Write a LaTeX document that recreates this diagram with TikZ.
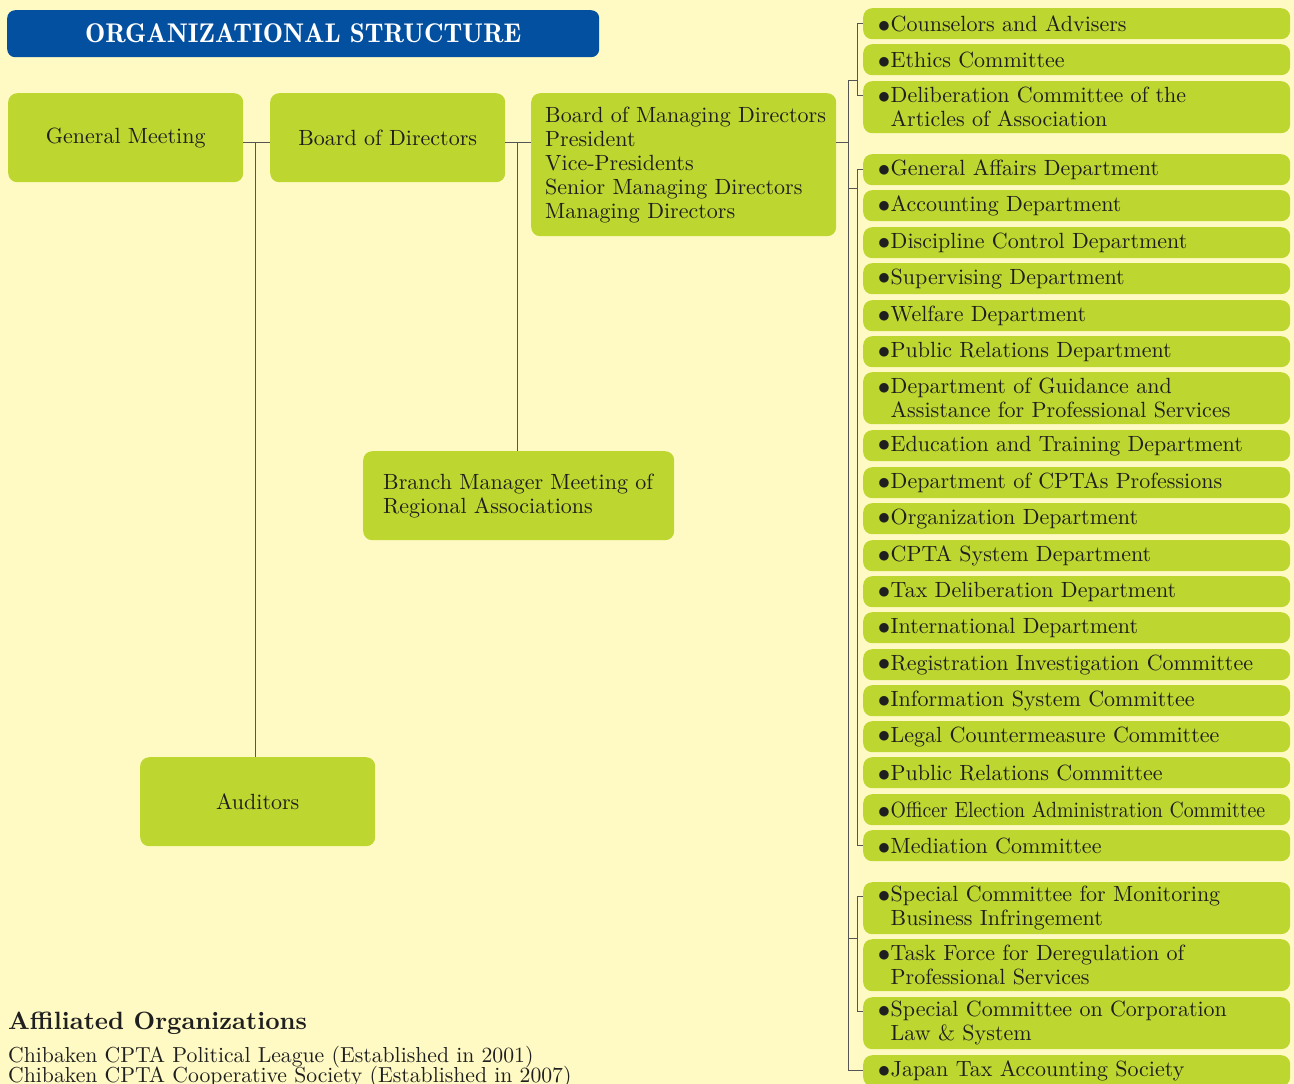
\documentclass[tikz,border=0pt]{standalone}
\usepackage{fontspec}
\usepackage{graphicx}
\setmainfont{lmroman10-regular.otf}[BoldFont=lmroman10-bold.otf]
\newfontfamily\demifont{lmromandemi10-regular.otf}
\newfontfamily\dv{DejaVu Sans}
\usetikzlibrary{calc}
\definecolor{bgc}{HTML}{FFFAC4}
\definecolor{boxc}{HTML}{BED730}
\definecolor{titlec}{HTML}{0450A0}
\definecolor{linec}{HTML}{555555}
\tikzset{
  box/.style={fill=boxc, rounded corners=9pt, inner sep=0pt, anchor=north west,
    font=\fontsize{22}{24}\selectfont, text=black!88},
  rbox/.style={box, font=\fontsize{22}{24}\selectfont, text width=395pt, inner xsep=16pt, inner ysep=0pt, align=left, minimum height=31pt},
  rbox2/.style={rbox, minimum height=52pt},
  conn/.style={draw=linec, line width=0.9pt},
}
\newcommand{\bul}{\makebox[11.5pt][l]{\kern-0.5pt\raisebox{2.2pt}{\dv\fontsize{12.5}{12}\selectfont ●}}}
\newcommand{\rt}[1]{\mbox{\bul#1}}
\newcommand{\rtt}[2]{\mbox{\bul#1}\\\mbox{\hspace{11.5pt}#2}}
\begin{document}
\begin{tikzpicture}[x=1pt,y=-1pt]
\useasboundingbox (0,0) rectangle (1294,1084);
\fill[bgc] (0,0) rectangle (1294,1084);
% title
\node[fill=titlec, rounded corners=8pt, anchor=north west, minimum width=592pt, minimum height=47pt,
  text=white, font=\fontsize{27}{30}\selectfont\demifont] (title) at (7,10) {ORGANIZATIONAL STRUCTURE};
% left boxes
\node[box, minimum width=235pt, minimum height=89pt] (gm) at (8,93) {General Meeting};
\node[box, minimum width=235pt, minimum height=89pt] (bd) at (270,93) {Board of Directors};
\node[box, minimum width=305pt, minimum height=143pt, text width=285pt, inner xsep=10pt, align=left] (bmd) at (531,93)
  {\hspace{4pt}\mbox{Board of Managing Directors}\\\hspace{4pt}President\\\hspace{4pt}Vice-Presidents\\\hspace{4pt}Senior Managing Directors\\\hspace{4pt}Managing Directors};
\node[box, minimum width=311pt, minimum height=89pt, text width=275pt, inner xsep=18pt, align=left] (br) at (363,451)
  {\hspace{2pt}Branch Manager Meeting of\\\hspace{2pt}Regional Associations};
\node[box, minimum width=235pt, minimum height=89pt] (au) at (140,757) {Auditors};
% right boxes
\node[rbox] (c1) at (863,8) {\rt{Counselors and Advisers}};
\node[rbox] (c2) at (863,44) {\rt{Ethics Committee}};
\node[rbox2] (c3) at (863,81) {\rtt{Deliberation Committee of the}{Articles of Association}};
\node[rbox] (d1) at (863,154) {\rt{General Affairs Department}};
\node[rbox] (d2) at (863,190) {\rt{Accounting Department}};
\node[rbox] (d3) at (863,227) {\rt{Discipline Control Department}};
\node[rbox] (d4) at (863,263) {\rt{Supervising Department}};
\node[rbox] (d5) at (863,300) {\rt{Welfare Department}};
\node[rbox] (d6) at (863,336) {\rt{Public Relations Department}};
\node[rbox2] (d7) at (863,372) {\rtt{Department of Guidance and}{Assistance for Professional Services}};
\node[rbox] (d8) at (863,430) {\rt{Education and Training Department}};
\node[rbox] (d9) at (863,467) {\rt{Department of CPTAs Professions}};
\node[rbox] (d10) at (863,503) {\rt{Organization Department}};
\node[rbox] (d11) at (863,540) {\rt{CPTA System Department}};
\node[rbox] (d12) at (863,576) {\rt{Tax Deliberation Department}};
\node[rbox] (d13) at (863,612) {\rt{International Department}};
\node[rbox] (d14) at (863,649) {\rt{Registration Investigation Committee}};
\node[rbox] (d15) at (863,685) {\rt{Information System Committee}};
\node[rbox] (d16) at (863,721) {\rt{Legal Countermeasure Committee}};
\node[rbox] (d17) at (863,757) {\rt{Public Relations Committee}};
\node[rbox] (d18) at (863,794) {\rt{\scalebox{0.9}[1]{Officer Election Administration Committee}}};
\node[rbox] (d19) at (863,830) {\rt{Mediation Committee}};
\node[rbox2] (e1) at (863,882) {\rtt{Special Committee for Monitoring}{Business Infringement}};
\node[rbox2] (e2) at (863,939) {\rtt{Task Force for Deregulation of}{Professional Services}};
\node[rbox2] (e3) at (863,997) {\rtt{Special Committee on Corporation}{Law \& System}};
\node[rbox] (jt) at (863,1055) {\rt{Japan Tax Accounting Society}};
% affiliated
\node[anchor=base west, inner sep=0pt, font=\fontsize{25}{28}\selectfont\bfseries, text=black!88] (af) at (8,1029) {Affiliated Organizations};
\node[anchor=base west, inner sep=0pt, font=\fontsize{21.7}{24}\selectfont, text=black!88] (af1) at (8,1062) {Chibaken CPTA Political League (Established in 2001)};
\node[anchor=base west, inner sep=0pt, font=\fontsize{21.7}{24}\selectfont, text=black!88] (af2) at (8,1082) {Chibaken CPTA Cooperative Society (Established in 2007)};
% left connectors
\coordinate (row) at (0,142);
\coordinate (j1) at (255,142);
\coordinate (j2) at (517,142);
\draw[conn] (gm.east |- row) -- (bd.west |- row);
\draw[conn] (j1) -- (j1 |- au.north);
\draw[conn] (bd.east |- row) -- (bmd.west |- row);
\draw[conn] (j2) -- (j2 |- br.north);
% right connectors
\coordinate (tx) at (848,0);
\coordinate (gx) at (857,0);
\coordinate (c3a) at ($(c3.north west)+(0,14)$);
\coordinate (e1a) at ($(e1.north west)+(0,14)$);
\coordinate (e3a) at ($(e3.north west)+(0,14)$);
\coordinate (l1) at (848,80);
\coordinate (l2) at (848,188);
\coordinate (l3) at (848,938);
\draw[conn] (bmd.east |- row) -- (tx |- row);
\draw[conn] (l1) -- (tx |- jt.west) -- (jt.west);
% group 1
\draw[conn] (c1.west) -- (gx |- c1.west) -- (gx |- c3a) -- (c3a);
\draw[conn] (l1) -- (gx |- l1);
% group 2
\draw[conn] (d1.west) -- (gx |- d1.west) -- (gx |- d19.west) -- (d19.west);
\draw[conn] (l2) -- (gx |- l2);
% group 3
\draw[conn] (e1a) -- (gx |- e1a) -- (gx |- e3a) -- (e3a);
\draw[conn] (l3) -- (gx |- l3);
\end{tikzpicture}
\end{document}
